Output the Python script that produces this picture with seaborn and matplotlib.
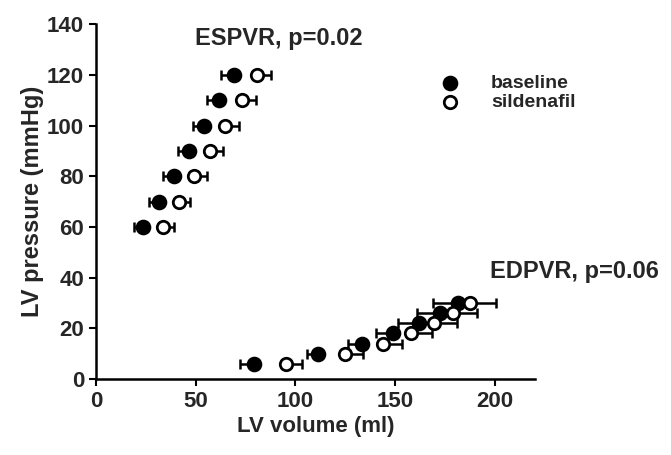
import numpy as np
import pandas as pd
import matplotlib.pyplot as plt
import seaborn as sns

# -----------------------------------
# Data
# -----------------------------------

esp_pressure = [60, 70, 80, 90, 100, 110, 120]
esp_base_vol = [23.5, 31.5, 39, 46.5, 54, 61.5, 69]
esp_base_err = [4.5, 5, 5.5, 5.5, 5.5, 6, 6.5]
esp_sild_vol = [33.5, 41.5, 49, 57, 64.5, 73, 80.5]
esp_sild_err = [5.5, 5.5, 6.5, 6.5, 7, 7, 7.5]

edp_pressure = [6, 10, 14, 18, 22, 26, 30]
edp_base_vol = [79, 111.5, 133.5, 149, 162, 172.5, 181.5]
edp_base_err = [7, 5.5, 7, 8.5, 10.5, 11.5, 12.5]
edp_sild_vol = [95.5, 125, 144, 158, 169.5, 179, 187.5]
edp_sild_err = [8, 9, 9.5, 10.5, 11.5, 12, 13]

groups = ["baseline", "sildenafil"]

df = pd.DataFrame({
    "volume": esp_base_vol + edp_base_vol + esp_sild_vol + edp_sild_vol,
    "pressure": (esp_pressure + edp_pressure) * 2,
    "err": esp_base_err + edp_base_err + esp_sild_err + edp_sild_err,
    "group": [groups[0]] * 14 + [groups[1]] * 14,
})

# -----------------------------------
# Style
# -----------------------------------

sns.set_style("ticks")
plt.rcParams["font.family"] = ["Liberation Sans", "DejaVu Sans"]
plt.rcParams["font.weight"] = "bold"

fig = plt.figure(figsize=(6.71, 4.55), dpi=100)
ax = fig.add_axes([0.143, 0.167, 0.654, 0.780])

# Error bars: baseline to the left, sildenafil to the right
base = df[df["group"] == "baseline"]
sild = df[df["group"] == "sildenafil"]

ax.errorbar(base["volume"], base["pressure"],
            xerr=[base["err"], np.zeros(len(base))],
            fmt="none", ecolor="black", elinewidth=1.8,
            capsize=3.5, capthick=1.8, zorder=2)
ax.errorbar(sild["volume"], sild["pressure"],
            xerr=[np.zeros(len(sild)), sild["err"]],
            fmt="none", ecolor="black", elinewidth=1.8,
            capsize=3.5, capthick=1.8, zorder=2)

sns.scatterplot(data=base, x="volume", y="pressure", ax=ax,
                color="black", edgecolor="black", s=95,
                linewidth=1.5, zorder=3, label="baseline")
sns.scatterplot(data=sild, x="volume", y="pressure", ax=ax,
                color="white", edgecolor="black", s=80,
                linewidth=2, zorder=3, label="sildenafil")

# -----------------------------------
# Axes
# -----------------------------------

ax.set_xlim(0, 220)
ax.set_ylim(0, 140)
ax.set_xticks([0, 50, 100, 150, 200])
ax.set_yticks(np.arange(0, 141, 20))

ax.set_xlabel("LV volume (ml)", fontsize=16, fontweight="bold", labelpad=3)
ax.set_ylabel("LV pressure (mmHg)", fontsize=17, fontweight="bold", labelpad=2)
ax.tick_params(axis="both", labelsize=16, width=1.5, length=5,
               direction="out", color="black")

for side in ["top", "right"]:
    ax.spines[side].set_visible(False)
for side in ["left", "bottom"]:
    ax.spines[side].set_linewidth(1.8)
    ax.spines[side].set_color("black")

ax.text(49.5, 134.5, "ESPVR, p=0.02", fontsize=17, fontweight="bold",
        ha="left", va="center")
ax.text(197.5, 42.5, "EDPVR, p=0.06", fontsize=17, fontweight="bold",
        ha="left", va="center", clip_on=False)

leg = ax.legend(loc="upper left", bbox_to_anchor=(0.745, 0.88),
                frameon=False, fontsize=14, handletextpad=1.1,
                labelspacing=0.05, markerscale=1.0, borderaxespad=0)
for t in leg.get_texts():
    t.set_fontweight("bold")

plt.savefig("out.png", dpi=100)
plt.close()
